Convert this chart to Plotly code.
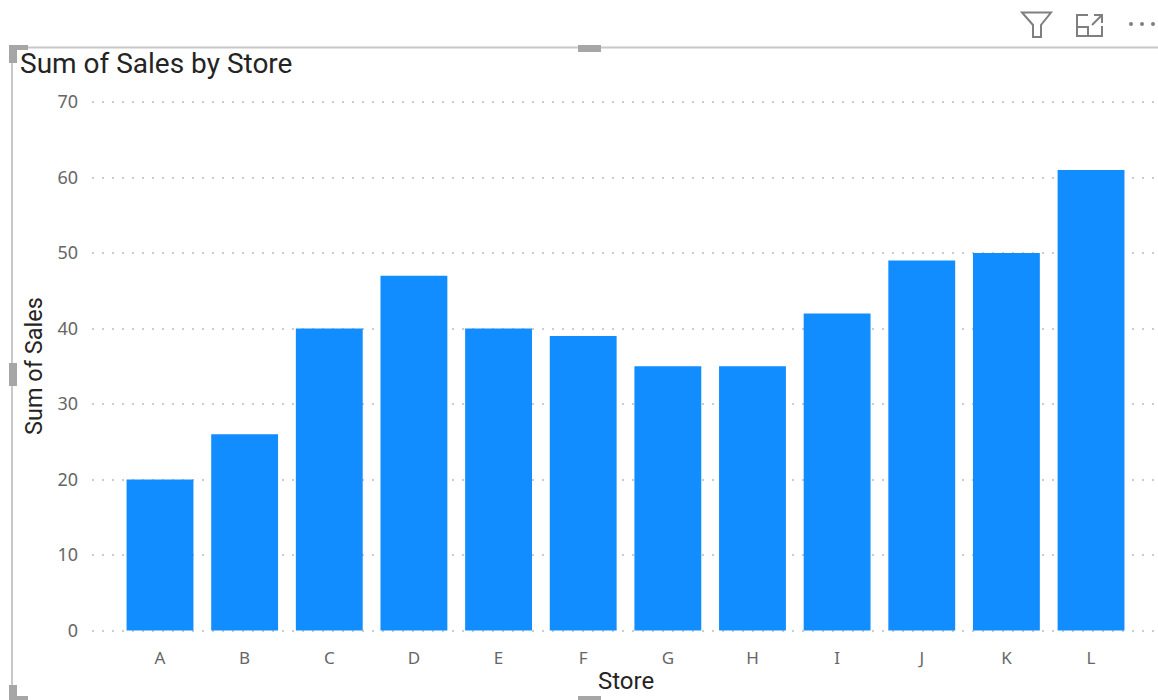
import plotly.graph_objects as go

stores = ["A", "B", "C", "D", "E", "F", "G", "H", "I", "J", "K", "L"]
sales = [20, 26, 40, 47, 40, 39, 35, 35, 42, 49, 50, 61]
y_ticks = [0, 10, 20, 30, 40, 50, 60, 70]

W, H = 1158, 700
PLOT_L, PLOT_R, PLOT_T, PLOT_B = 92, 1158, 102, 630.5
UNIT = 84.64
X0 = 160
Y_PAD = 1  # range padding so the gridlines at 0 and 70 are drawn
Y_UNIT = (PLOT_B - PLOT_T) / 70


def px(x):
    return x / W


def py(y):
    return 1 - y / H


def rect(x0, y0, x1, y1, color):
    return dict(type="rect", xref="paper", yref="paper", x0=px(x0), x1=px(x1), y0=py(y0), y1=py(y1),
                fillcolor=color, line=dict(width=0), layer="above")


def line(x0, y0, x1, y1, color, width):
    return dict(type="line", xref="paper", yref="paper", x0=px(x0), x1=px(x1), y0=py(y0), y1=py(y1),
                line=dict(color=color, width=width), layer="above")


def path(points, color, width, close=False):
    d = "M" + " L".join(f"{px(a):.5f},{py(b):.5f}" for a, b in points) + (" Z" if close else "")
    return dict(type="path", xref="paper", yref="paper", path=d, line=dict(color=color, width=width), layer="above")


FRAME = "#c8c8c8"
HANDLE = "#a6a6a6"
ICON = "#7f7f7f"
shapes = [
    line(12, 47.5, 1158, 47.5, FRAME, 2),
    line(12, 47, 12, 700, FRAME, 2),
    # corner and edge handles
    rect(9, 45, 28, 50, HANDLE), rect(9, 45, 17, 63, HANDLE),
    rect(9, 685, 17, 700, HANDLE), rect(9, 696, 28, 700, HANDLE),
    rect(9, 363, 17, 386, HANDLE),
    rect(578, 45, 601, 52, HANDLE),
    rect(578, 696, 601, 700, HANDLE),
    # filter icon
    path([(1022, 12.5), (1051, 12.5), (1041, 25), (1041, 37), (1033, 37), (1033, 25)], ICON, 2, True),
    # focus icon
    path([(1088, 15), (1077, 15), (1077, 36), (1102, 36), (1102, 26)], ICON, 2),
    path([(1077, 27), (1088, 27), (1088, 36)], ICON, 2),
    path([(1092, 25), (1102, 15)], ICON, 2),
    path([(1094, 15), (1102, 15), (1102, 23)], ICON, 2),
    # more dots
    dict(type="circle", xref="paper", yref="paper", x0=px(1129), x1=px(1133), y0=py(22), y1=py(26),
         fillcolor=ICON, line=dict(width=0)),
    dict(type="circle", xref="paper", yref="paper", x0=px(1140), x1=px(1144), y0=py(22), y1=py(26),
         fillcolor=ICON, line=dict(width=0)),
    dict(type="circle", xref="paper", yref="paper", x0=px(1151), x1=px(1155), y0=py(22), y1=py(26),
         fillcolor=ICON, line=dict(width=0)),
]

fig = go.Figure(go.Bar(x=stores, y=sales, marker=dict(color="#118dff", line=dict(width=0)), width=0.79))

fig.update_layout(
    width=W, height=H, autosize=False,
    margin=dict(l=0, r=0, t=0, b=0, pad=0, autoexpand=False),
    paper_bgcolor="white", plot_bgcolor="white",
    showlegend=False,
    font=dict(family="Noto Sans", color="#666666"),
    shapes=shapes,
    annotations=[
        dict(text="Sum of Sales by Store", xref="paper", yref="paper", x=px(18), y=py(64), xanchor="left",
             yanchor="middle", showarrow=False, font=dict(family="Roboto", size=28, color="#252423")),
        dict(text="Store", xref="paper", yref="paper", x=px(626), y=py(681), xanchor="center",
             yanchor="middle", showarrow=False, font=dict(family="Roboto", size=24, color="#252423")),
        dict(text="Sum of Sales", xref="paper", yref="paper", x=px(34), y=py(366), xanchor="center",
             yanchor="middle", textangle=-90, showarrow=False, font=dict(family="Roboto", size=23.5, color="#252423")),
    ],
    xaxis=dict(
        domain=[px(PLOT_L), px(PLOT_R)],
        range=[(PLOT_L - X0) / UNIT, (PLOT_R - X0) / UNIT],
        type="category", showgrid=False, zeroline=False, showline=False, ticks="",
        tickfont=dict(family="Noto Sans", size=17, color="#666666"), ticklabelstandoff=8,
    ),
    yaxis=dict(
        domain=[py(PLOT_B + Y_PAD * Y_UNIT), py(PLOT_T - Y_PAD * Y_UNIT)],
        range=[-Y_PAD, 70 + Y_PAD], tickvals=y_ticks,
        showgrid=True, gridcolor="#cccccc", griddash="2px,8px", gridwidth=1.5,
        zeroline=False, showline=False, ticks="",
        tickfont=dict(family="Noto Sans", size=18, color="#666666"), ticklabelstandoff=13,
    ),
)

fig.write_html("out.html", config=dict(displayModeBar=False),
               post_script="document.body.style.margin='0';document.documentElement.style.overflow='hidden';")
